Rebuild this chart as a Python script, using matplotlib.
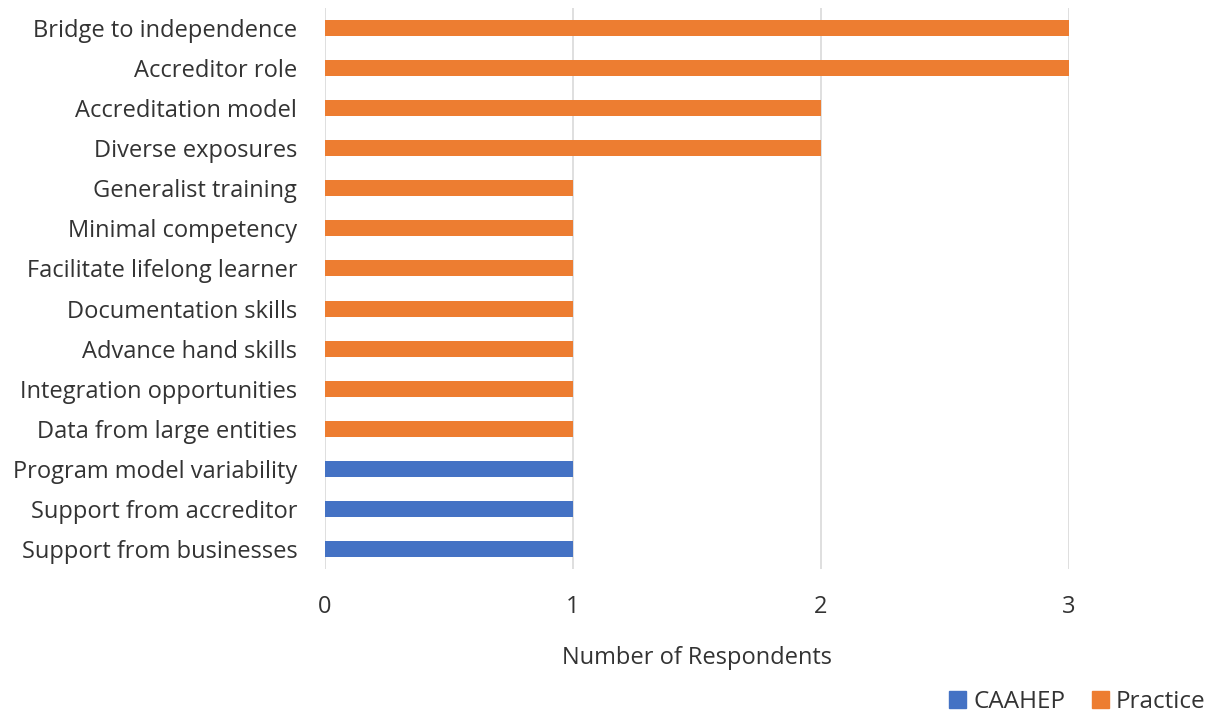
import matplotlib.pyplot as plt
from matplotlib.patches import Patch

plt.rcParams['font.family'] = ['Open Sans', 'DejaVu Sans']

# themes, top to bottom
themes = ["Bridge to independence", "Accreditor role", "Accreditation model",
          "Diverse exposures", "Generalist training", "Minimal competency",
          "Facilitate lifelong learner", "Documentation skills",
          "Advance hand skills", "Integration opportunities",
          "Data from large entities", "Program model variability",
          "Support from accreditor", "Support from businesses"]
respondents = [3, 3, 2, 2, 1, 1, 1, 1, 1, 1, 1, 1, 1, 1]
source = ["Practice"] * 11 + ["CAAHEP"] * 3

colors = {"CAAHEP": "#4472C4", "Practice": "#ED7D31"}
txt = "#333333"

fig = plt.figure(figsize=(12.13, 7.17), dpi=100)
ax = fig.add_axes([0.268, 0.2064, 0.613, 0.7824])

ypos = list(range(len(themes)))[::-1]
ax.barh(ypos, respondents, height=0.4,
        color=[colors[s] for s in source], zorder=3)

ax.set_yticks(ypos)
ax.set_yticklabels(themes, fontsize=17, color=txt)
ax.set_ylim(-0.5, len(themes) - 0.5)
ax.set_xlim(0, 3)
ax.set_xticks([0, 1, 2, 3])
ax.tick_params(axis="x", labelsize=17, labelcolor=txt, length=0, pad=18.5)
ax.tick_params(axis="y", length=0, pad=20)
ax.xaxis.grid(True, color="#D9D9D9", linewidth=1.2, zorder=0)
for s in ax.spines.values():
    s.set_visible(False)

ax.set_xlabel("Number of Respondents", fontsize=17, color=txt, labelpad=20)

handles = [Patch(color=colors["CAAHEP"], label="CAAHEP"),
           Patch(color=colors["Practice"], label="Practice")]
fig.legend(handles=handles, loc="lower right", bbox_to_anchor=(1.012, -0.027),
           ncol=2, frameon=False, fontsize=17.5, handlelength=0.7,
           handleheight=0.7, handletextpad=0.3, columnspacing=1.1,
           labelcolor=txt)

fig.savefig("out.png", dpi=100, facecolor="white")
